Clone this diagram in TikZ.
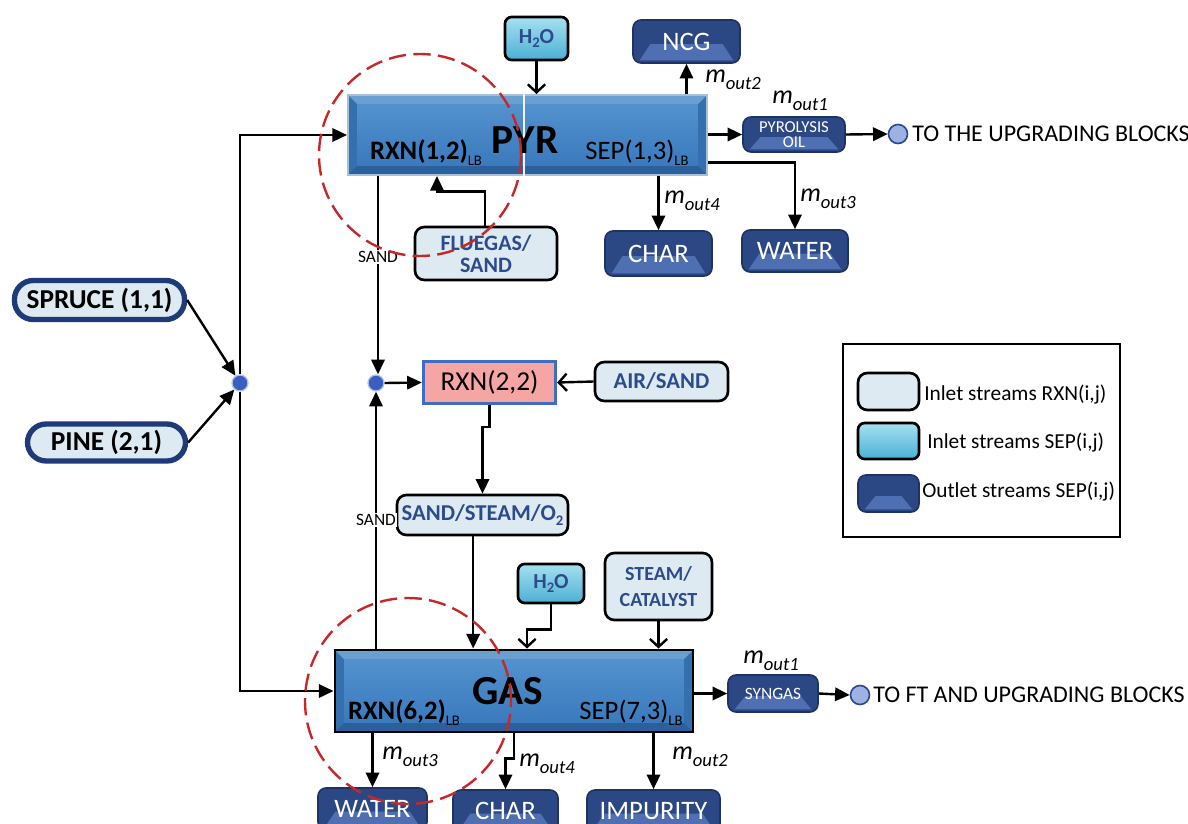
\documentclass[tikz,border=0pt]{standalone}
\usepackage{fontspec}
\setmainfont{Carlito}
\usetikzlibrary{arrows.meta}
\definecolor{mainframe}{HTML}{3470AE}
\definecolor{mainlight}{HTML}{6A9FD2}
\definecolor{maindark}{HTML}{2C609C}
\definecolor{maintop}{HTML}{5391CE}
\definecolor{mainbot}{HTML}{3A7ABD}
\definecolor{mainedge}{HTML}{A9C1D8}
\definecolor{outfill}{HTML}{2B4784}
\definecolor{outedge}{HTML}{1E3263}
\definecolor{outlight}{HTML}{4F6FB3}
\definecolor{infill}{HTML}{DDEAF1}
\definecolor{intext}{HTML}{2C4B8C}
\definecolor{cyantop}{HTML}{A5E0F0}
\definecolor{cyanbot}{HTML}{4CB0D4}
\definecolor{pinkfill}{HTML}{F5A5A3}
\definecolor{pinkedge}{HTML}{3F6DC4}
\definecolor{dotfill}{HTML}{3A5EC0}
\definecolor{dothalo}{HTML}{AFC2EC}
\definecolor{tufill}{HTML}{9DB1E3}
\definecolor{tuedge}{HTML}{2A4790}
\definecolor{feededge}{HTML}{1E3A78}
\definecolor{redring}{HTML}{C62828}
\newcommand\fsz[1]{\fontsize{#1}{#1}\selectfont}
\newcommand\fsl[2]{\fontsize{#1}{#2}\selectfont}
\newcommand\mout[1]{{\fsz{19.5}\itshape m\raisebox{-0.28em}{\fsz{14}out#1}}}
\newcommand\lbsub{\raisebox{-0.22em}{\fsz{11}\mdseries LB}}
\newcommand\twosub{\raisebox{-0.22em}{\fsz{11}2}}
\begin{document}
\begin{tikzpicture}[x=0.75pt,y=-0.75pt,
  wh/.style n args={2}{minimum width=#1*0.75pt,minimum height=#2*0.75pt,inner sep=0pt},
  ln/.style={line width=1.8pt},
  arr/.style={ln,-{Triangle[length=11pt,width=10pt]}},
  barb/.style={ln,-{Straight Barb[length=6pt,width=13pt]}},
  mainbox/.style={fill=mainframe,
    path picture={
      \fill[mainlight,sharp corners] (path picture bounding box.north west) -- (path picture bounding box.north east)
        -- ([shift={(-7pt,-7pt)}]path picture bounding box.north east) -- ([shift={(7pt,-7pt)}]path picture bounding box.north west) -- cycle;
      \fill[maindark,sharp corners] (path picture bounding box.south west) -- (path picture bounding box.south east)
        -- ([shift={(-7pt,7pt)}]path picture bounding box.south east) -- ([shift={(7pt,7pt)}]path picture bounding box.south west) -- cycle;
      \shade[top color=maintop,bottom color=mainbot,sharp corners] ([shift={(7pt,-7pt)}]path picture bounding box.north west)
        rectangle ([shift={(-7pt,7pt)}]path picture bounding box.south east);
    }},
  outbox/.style={rounded corners=6pt,draw=outedge,line width=1.2pt,fill=outfill,text=white,
    path picture={
      \fill[outlight,sharp corners] ([shift={(5pt,2pt)}]path picture bounding box.south west) -- ([shift={(-5pt,2pt)}]path picture bounding box.south east)
        -- ([shift={(-13pt,-2pt)}]path picture bounding box.east) -- ([shift={(13pt,-2pt)}]path picture bounding box.west) -- cycle;
    }},
  inbox/.style={rounded corners=7pt,draw=black,line width=2pt,fill=infill,text=intext},
  feed/.style={rounded corners=14pt,draw=feededge,line width=4pt,fill=infill,text=black,font=\fsz{20.5}\bfseries},
  cyanbox/.style={rounded corners=5pt,draw=black,line width=2pt,top color=cyantop,bottom color=cyanbot,text=intext,font=\fsz{16}\bfseries},
  jdot/.style={circle,fill=dotfill,draw=dothalo,line width=1pt,minimum size=16*0.75pt,inner sep=0pt},
  tudot/.style={circle,fill=tufill,draw=tuedge,line width=1.2pt,minimum size=19*0.75pt,inner sep=0pt},
  sandlbl/.style={fill=white,inner sep=1pt,font=\fsz{13}},
  mlbl/.style={inner sep=0pt},
  ring/.style={draw=redring,line width=1.8pt,dash pattern=on 13pt off 5.5pt}
]
\clip (0,0) rectangle (1188,824);

% ---------- PYR ----------
\node[mainbox,draw=mainedge,line width=1.5pt,wh={359}{80}] (pyr) at (527.5,135) {};
\draw[white!85!mainedge,line width=1pt] (pyr.north -| 524,0) -- (pyr.south -| 524,0);
\node[font=\fsz{31}\bfseries] (pyrT) at (525,140) {PYR};
\node[font=\fsz{20}\bfseries] (pyrR) at (426,153) {RXN(1,2)\lbsub};
\node[font=\fsz{20}] (pyrS) at (637,153) {SEP(1,3)\lbsub};

\node[cyanbox,wh={63}{43}] (h2oA) at (536.5,38.5) {H\twosub O};
\node[outbox,wh={107}{43},font=\fsz{20}] (ncg) at (686.5,41.5) {NCG};
\node[outbox,wh={102}{35},font=\fsl{12.5}{11},align=center] (oil) at (794,134.5) {PYROLYSIS\\OIL};
\node[tudot] (tu1) at (898,134) {};
\node[anchor=west,inner sep=0pt,font=\fsz{18}] (tu1t) at (912,134) {TO THE UPGRADING BLOCKS};
\node[outbox,wh={106}{42},font=\fsz{20}] (water1) at (795,251) {WATER};
\node[outbox,wh={107}{45},font=\fsz{20}] (char1) at (658.5,253.5) {CHAR};
\node[inbox,wh={142}{53},font=\fsl{16.5}{16.5}\bfseries,align=center] (flue) at (486,253.5) {FLUEGAS/\\SAND};

% ---------- feeds ----------
\node[feed,wh={170}{39}] (spruce) at (99.5,300) {SPRUCE (1,1)};
\node[feed,wh={158}{37}] (pine) at (106.5,442.5) {PINE (2,1)};
\node[jdot] (dotL) at (240,383) {};
\node[jdot] (dotM) at (376,383) {};

% ---------- RXN(2,2) ----------
\node[fill=pinkfill,draw=pinkedge,line width=2.5pt,wh={132}{42},font=\fsz{20.5}] (rxn22) at (489.5,382.5) {RXN(2,2)};
\node[inbox,wh={133}{39},font=\fsz{17}\bfseries] (air) at (661.5,381.5) {AIR/SAND};
\node[inbox,wh={171}{40},font=\fsz{17}\bfseries] (sst) at (482.5,515) {SAND/STEAM/O\twosub};

% ---------- GAS ----------
\node[mainbox,draw=black,line width=2.2pt,wh={358}{82}] (gas) at (514,691) {};
\node[font=\fsz{31}\bfseries] (gasT) at (508,691) {GAS};
\node[font=\fsz{20}\bfseries] (gasR) at (404,712.5) {RXN(6,2)\lbsub};
\node[font=\fsz{20}] (gasS) at (631,712.5) {SEP(7,3)\lbsub};

\node[cyanbox,wh={66}{39}] (h2oB) at (551,583.5) {H\twosub O};
\node[inbox,wh={107}{67},font=\fsl{15}{19}\bfseries,align=center] (stcat) at (658.5,586.5) {STEAM/\\CATALYST};
\node[outbox,wh={90}{37},font=\fsz{13}] (syn) at (773,693.5) {SYNGAS};
\node[tudot] (tu2) at (860,695) {};
\node[anchor=west,inner sep=0pt,font=\fsz{18}] (tu2t) at (873,695) {TO FT AND UPGRADING BLOCKS};
\node[outbox,wh={109}{42},font=\fsz{20}] (water2) at (372.5,809) {WATER};
\node[outbox,wh={105}{42},font=\fsz{20}] (char2) at (505.5,811) {CHAR};
\node[outbox,wh={133}{42},font=\fsz{20}] (imp) at (653.5,811) {IMPURITY};

% ---------- connectors (top) ----------
\draw[barb] (h2oA.south) -- (h2oA.south |- pyr.north);
\draw[arr] (ncg.south |- pyr.north) -- (ncg.south);
\draw[arr] (oil.west -| pyr.east) -- (oil.west);
\draw[arr] (oil.east) -- (tu1.west);
\draw[arr] ([yshift=10pt]pyr.south east) -| (water1.north);
\draw[arr] (char1.north |- pyr.south) -- (char1.north);
\draw[arr] ([xshift=-0.75pt]flue.north) -- ++(0,-34) -| ([xshift=-67.9pt]pyr.south);
\draw[arr] ([xshift=1.5pt]dotM.north |- pyr.south) -- node[sandlbl,pos=0.41]{SAND} ([xshift=1.5pt]dotM.north);

% ---------- feeds ----------
\draw[arr] (spruce.east) -- (dotL);
\draw[arr] (pine.east) -- (dotL);
\draw[arr] (dotL.north) |- (pyr.west);
\draw[arr] (dotL.south) |- (gas.west);

% ---------- middle ----------
\draw[arr] (dotM.east) -- (rxn22.west);
\draw[barb] (air.west) -- (rxn22.east);
\draw[arr] (rxn22.south) -- ++(0,22) -| (sst.north);
\draw[arr] ([xshift=-7pt]sst.south) -- ([xshift=-7pt]sst.south |- gas.north);
\draw[arr] (dotM.south |- gas.north) -- node[sandlbl,pos=0.5]{SAND} (dotM.south);

% ---------- GAS connectors ----------
\draw[barb] (h2oB.south) -- ++(0,25) -| ([xshift=9.75pt]gas.north);
\draw[barb] (stcat.south) -- (stcat.south |- gas.north);
\draw[arr] (syn.west -| gas.east) -- (syn.west);
\draw[arr] (syn.east) -- (tu2.west);
\draw[arr] (water2.north |- gas.south) -- (water2.north);
\draw[arr] (gas.south) -- ++(0,25) -| (char2.north);
\draw[arr] (imp.north |- gas.south) -- (imp.north);

% ---------- m labels ----------
\node[mlbl] (m2a) at (733,80) {\mout{2}};
\node[mlbl] (m1a) at (800,101) {\mout{1}};
\node[mlbl] (m4a) at (692,201) {\mout{4}};
\node[mlbl] (m3a) at (828,199) {\mout{3}};
\node[mlbl] (m1b) at (771,661) {\mout{1}};
\node[mlbl] (m3b) at (410,757) {\mout{3}};
\node[mlbl] (m4b) at (547,764) {\mout{4}};
\node[mlbl] (m2b) at (700,757) {\mout{2}};

% ---------- legend ----------
\node[draw=black,line width=1.5pt,wh={277}{193}] (leg) at (981.5,440.5) {};
\node[inbox,wh={61}{37}] (lg1) at (888.5,391.5) {};
\node[cyanbox,wh={61}{36}] (lg2) at (888.5,441) {};
\node[outbox,wh={61}{37}] (lg3) at (888.5,493.5) {};
\node[anchor=west,inner sep=0pt,font=\fsz{16}] (lt1) at (924,395) {Inlet streams RXN(i,j)};
\node[anchor=west,inner sep=0pt,font=\fsz{16}] (lt2) at (927,443) {Inlet streams SEP(i,j)};
\node[anchor=west,inner sep=0pt,font=\fsz{16}] (lt3) at (922,492) {Outlet streams SEP(i,j)};

% ---------- red dashed rings ----------
\draw[ring] (420,155) circle[radius=101*0.75pt];
\draw[ring] (408,701) circle[radius=103*0.75pt];
\end{tikzpicture}
\end{document}
